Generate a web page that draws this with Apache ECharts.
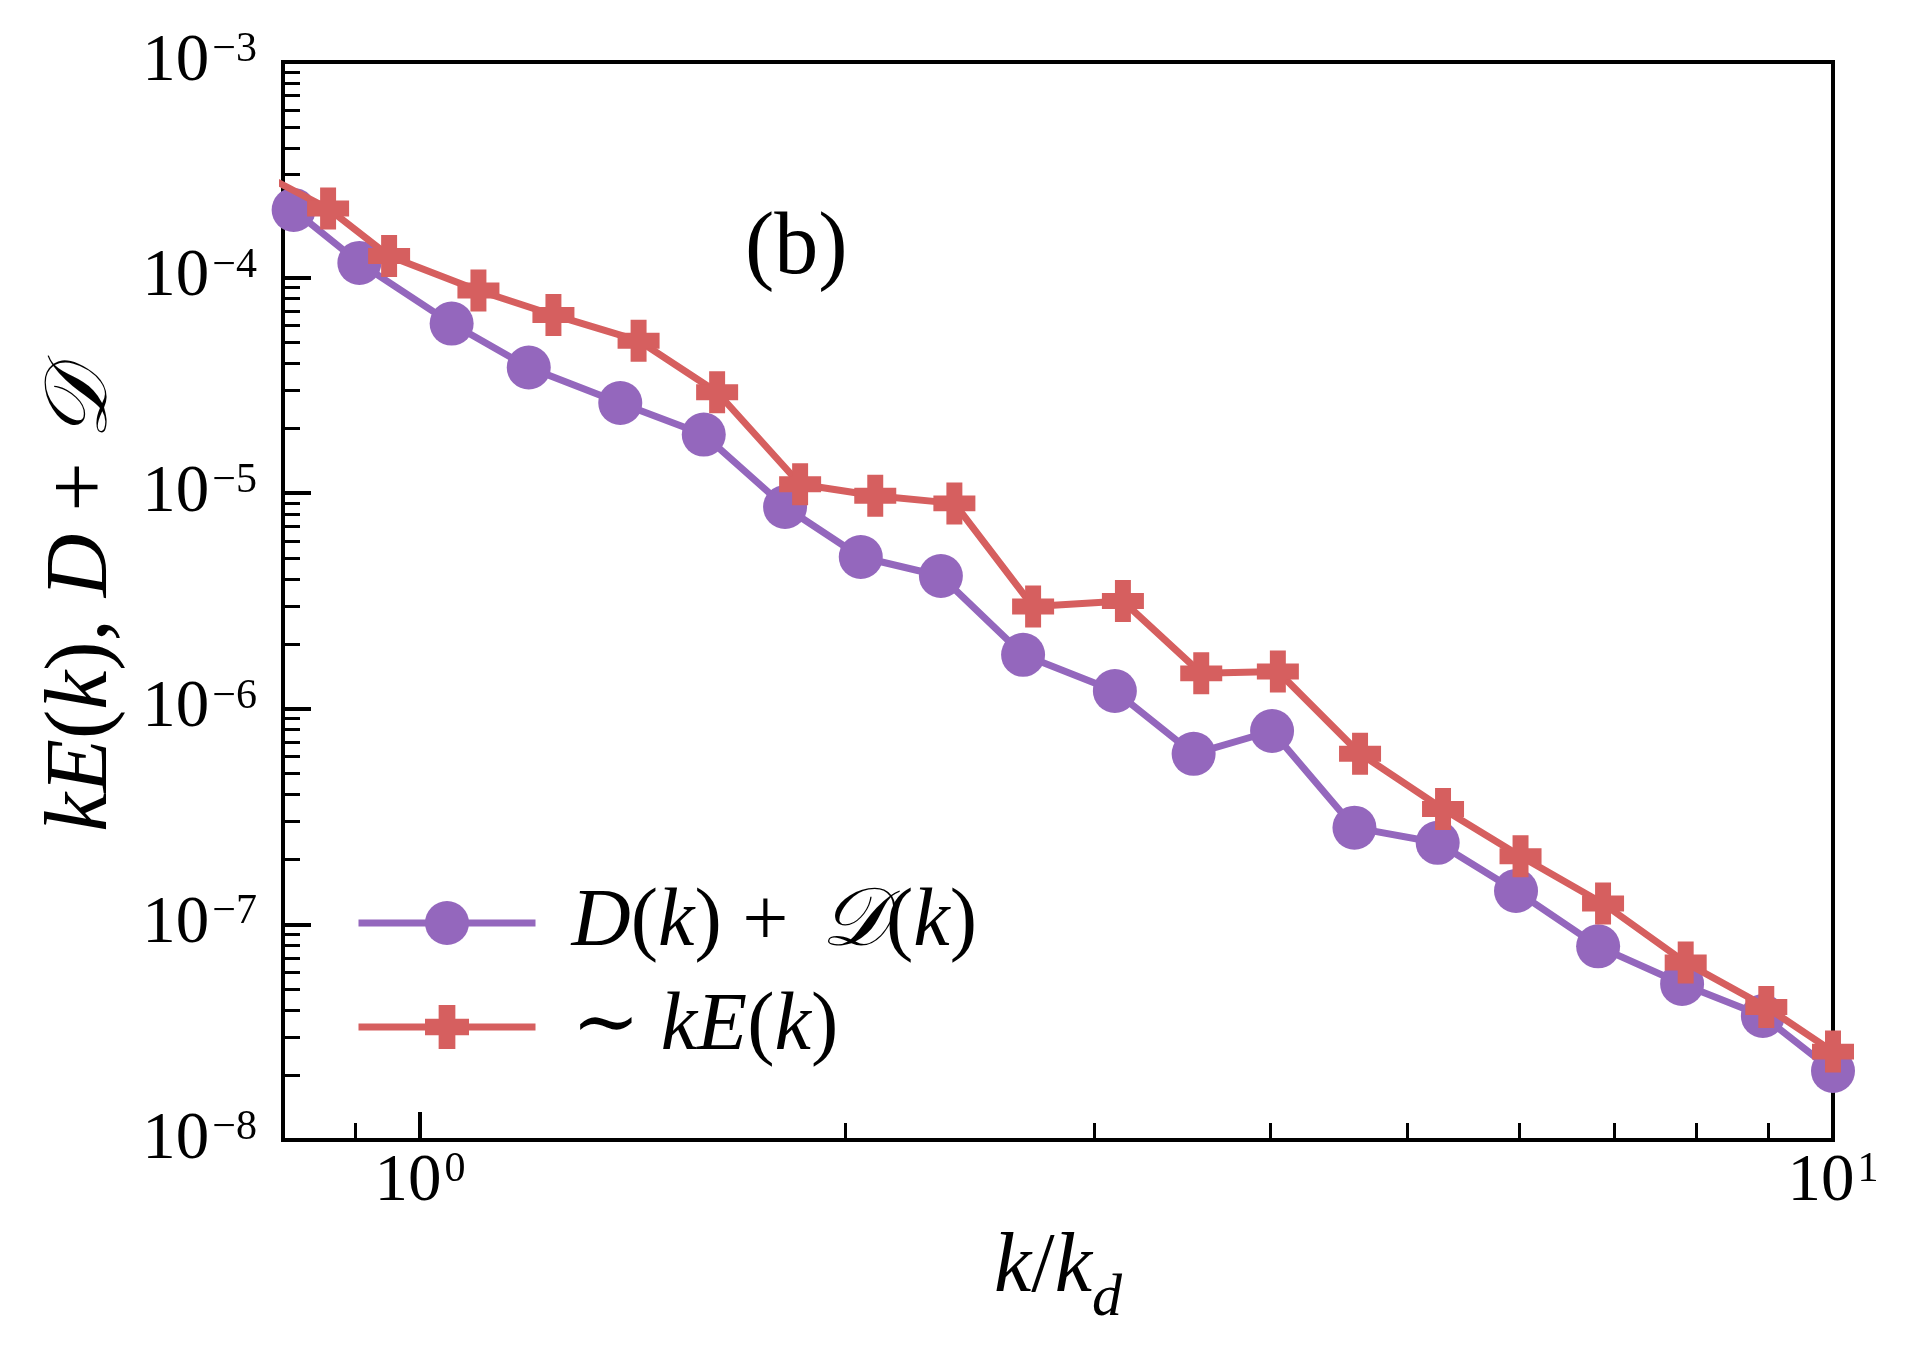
<!DOCTYPE html>
<html>
<head>
<meta charset="utf-8">
<title>kE(k), D + 𝒟</title>
<script src="https://cdn.jsdelivr.net/npm/echarts@6/dist/echarts.min.js"></script>
<style>
  html, body { margin: 0; padding: 0; background: #fff; }
  #grafica { width: 1918px; height: 1359px; }
</style>
</head>
<body>
<div id="grafica"></div>
<script>
// D(k) + calligraphic D(k)
var kDisipacion = [0.814, 0.906, 1.053, 1.194, 1.386, 1.588, 1.813, 2.051, 2.337, 2.672,
  3.103, 3.528, 4.009, 4.585, 5.251, 5.966, 6.82, 7.82, 8.92, 10.0];
var valoresDisipacion = [2.06e-4, 1.17e-4, 6.12e-5, 3.83e-5, 2.62e-5, 1.87e-5, 8.63e-6, 5.06e-6, 4.13e-6, 1.78e-6,
  1.21e-6, 6.18e-7, 7.89e-7, 2.81e-7, 2.39e-7, 1.43e-7, 7.91e-8, 5.29e-8, 3.76e-8, 2.09e-8];

// ~ kE(k), first point sits just left of the frame
var kEnergia = [0.775, 0.861, 0.951, 1.100, 1.243, 1.428, 1.623, 1.858, 2.100, 2.389, 2.716,
  3.144, 3.572, 4.047, 4.627, 5.297, 6.01, 6.875, 7.866, 8.97, 10.0];
var valoresEnergia = [3.0e-4, 2.09e-4, 1.26e-4, 8.71e-5, 6.71e-5, 5.10e-5, 2.94e-5, 1.10e-5, 9.73e-6, 8.97e-6, 2.98e-6,
  3.16e-6, 1.46e-6, 1.49e-6, 6.19e-7, 3.43e-7, 2.07e-7, 1.25e-7, 6.65e-8, 4.14e-8, 2.57e-8];

var ticksX = [1, 10];
var ticksXMenores = [0.9, 2, 3, 4, 5, 6, 7, 8, 9];
var ticksY = [1e-8, 1e-7, 1e-6, 1e-5, 1e-4, 1e-3];
var multiplosMenores = [2, 3, 4, 5, 6, 7, 8, 9];

var nombreDisipacion = "D(k) + 𝒟(k)";
var nombreEnergia = "∼ kE(k)";

var fuente = "'Liberation Serif', 'DejaVu Serif', serif";
var colores = { disipacion: "#9467bd", energia: "#d65f5f" };

document.addEventListener("DOMContentLoaded", function () {
  cargarGrafica();
});

function etiquetaPotencia(valor) {
  var exp = Math.round(Math.log10(valor));
  var txt = exp < 0 ? "\u2212" + (-exp) : String(exp);
  return "{b|10}{s|" + txt + "}";
}

function unirPuntos(xs, ys) {
  return xs.map(function (x, i) { return [x, ys[i]]; });
}

function cargarGrafica() {
  var chart = echarts.init(document.getElementById("grafica"));

  var ticksYMenores = [];
  for (var e = -8; e <= -4; e++) {
    multiplosMenores.forEach(function (m) {
      ticksYMenores.push(m * Math.pow(10, e));
    });
  }

  var richPotencia = {
    b: { fontSize: 67, lineHeight: 66, fontFamily: fuente, color: "#000" },
    s: { fontSize: 42, lineHeight: 40, fontFamily: fuente, color: "#000", verticalAlign: "top", padding: [0, 0, 0, 3] },
  };

  var richTitulo = {
    i: { fontStyle: "italic", fontSize: 88, lineHeight: 88, fontFamily: fuente, color: "#000" },
    c: { fontStyle: "italic", fontSize: 88, lineHeight: 88, fontFamily: fuente, color: "#000" },
  };

  var leyendas = {};
  leyendas[nombreDisipacion] = "{i|D}({i|k}) + {c|𝒟}({i|k})";
  leyendas[nombreEnergia] = "∼ {i|kE}({i|k})";

  var option = {
    animation: false,
    backgroundColor: "#fff",
    title: {
      text: "(b)",
      left: 745,
      top: 200,
      padding: 0,
      textStyle: { fontSize: 88, lineHeight: 100, fontWeight: "normal", fontFamily: fuente, color: "#000" },
    },
    grid: {
      left: 283,
      right: 85,
      top: 62,
      bottom: 219,
      show: true,
      borderColor: "#000",
      borderWidth: 4,
    },
    legend: {
      orient: "vertical",
      left: 355,
      top: 882,
      padding: 0,
      itemWidth: 177,
      itemHeight: 55,
      itemGap: 22,
      data: [nombreDisipacion, nombreEnergia],
      formatter: function (name) { return leyendas[name]; },
      lineStyle: { width: 7 },
      textStyle: {
        fontSize: 82,
        lineHeight: 76,
        fontFamily: fuente,
        color: "#000",
        padding: [0, 0, 0, 31],
        rich: {
          i: { fontStyle: "italic", fontSize: 82, lineHeight: 76, fontFamily: fuente, color: "#000" },
          c: { fontStyle: "italic", fontSize: 82, lineHeight: 76, fontFamily: fuente, color: "#000", padding: [0, 0, 0, 12] },
        },
      },
    },
    xAxis: [
      {
        type: "log",
        logBase: 10,
        min: 0.8,
        max: 10,
        position: "bottom",
        name: "{i|k}{r|/}{i|k}{d|d}",
        nameLocation: "middle",
        nameGap: 87,
        nameTextStyle: {
          fontSize: 84,
          fontFamily: fuente,
          color: "#000",
          rich: {
            i: { fontStyle: "italic", fontSize: 84, lineHeight: 86, fontFamily: fuente, color: "#000", verticalAlign: "top" },
            r: { fontSize: 84, lineHeight: 86, fontFamily: fuente, color: "#000", verticalAlign: "top" },
            d: { fontStyle: "italic", fontSize: 60, lineHeight: 60, fontFamily: fuente, color: "#000", verticalAlign: "top", padding: [42, 0, 0, 0] },
          },
        },
        axisLine: { show: false },
        axisTick: { inside: true, length: 28, lineStyle: { color: "#000", width: 4 }, customValues: ticksX },
        axisLabel: { margin: 9, customValues: ticksX, formatter: etiquetaPotencia, rich: richPotencia },
        splitLine: { show: false },
      },
      {
        type: "log",
        logBase: 10,
        min: 0.8,
        max: 10,
        position: "bottom",
        axisLine: { show: false },
        axisTick: { inside: true, length: 17, lineStyle: { color: "#000", width: 3 }, customValues: ticksXMenores },
        axisLabel: { show: false },
        splitLine: { show: false },
      },
    ],
    yAxis: [
      {
        type: "log",
        logBase: 10,
        min: 1e-8,
        max: 1e-3,
        position: "left",
        name: "{i|kE}({i|k}), {i|D} + {c|𝒟}",
        nameLocation: "middle",
        nameRotate: 90,
        nameGap: 156,
        nameTextStyle: { fontSize: 88, lineHeight: 88, fontFamily: fuente, color: "#000", rich: richTitulo },
        axisLine: { show: false },
        axisTick: { inside: true, length: 28, lineStyle: { color: "#000", width: 4 }, customValues: ticksY },
        axisLabel: { margin: 26, customValues: ticksY, formatter: etiquetaPotencia, rich: richPotencia },
        splitLine: { show: false },
      },
      {
        type: "log",
        logBase: 10,
        min: 1e-8,
        max: 1e-3,
        position: "left",
        axisLine: { show: false },
        axisTick: { inside: true, length: 17, lineStyle: { color: "#000", width: 3 }, customValues: ticksYMenores },
        axisLabel: { show: false },
        splitLine: { show: false },
      },
    ],
    series: [
      {
        name: nombreDisipacion,
        type: "line",
        xAxisIndex: 0,
        yAxisIndex: 0,
        data: unirPuntos(kDisipacion, valoresDisipacion),
        symbol: "circle",
        symbolSize: 44,
        showAllSymbol: true,
        clip: true,
        lineStyle: { color: colores.disipacion, width: 7 },
        itemStyle: { color: colores.disipacion },
        z: 3,
      },
      {
        name: nombreEnergia,
        type: "line",
        xAxisIndex: 0,
        yAxisIndex: 0,
        data: unirPuntos(kEnergia, valoresEnergia),
        symbol: "path://M31,0H69V31H100V69H69V100H31V69H0V31H31Z",
        symbolSize: 42,
        showAllSymbol: true,
        clip: true,
        lineStyle: { color: colores.energia, width: 7 },
        itemStyle: { color: colores.energia },
        z: 4,
      },
    ],
  };

  chart.setOption(option);
}
</script>
</body>
</html>
